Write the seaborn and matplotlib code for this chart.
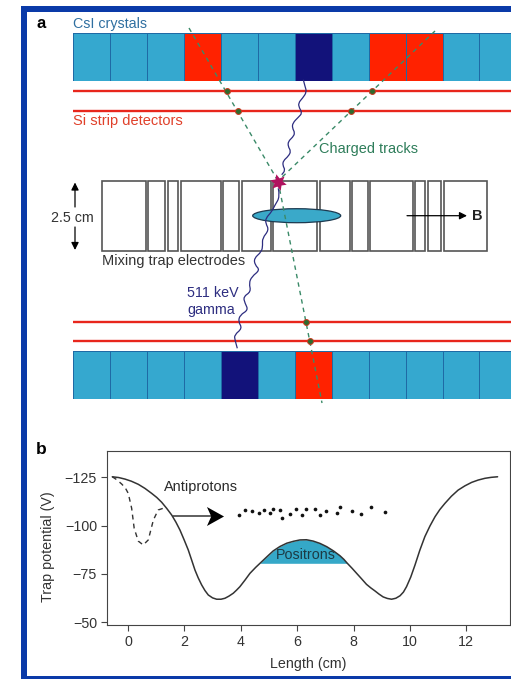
import numpy as np
import seaborn as sns
import matplotlib
matplotlib.use('Agg')
import matplotlib.pyplot as plt
from matplotlib.colors import ListedColormap
from matplotlib.patches import Rectangle, Ellipse, PathPatch
from matplotlib.path import Path

# panel b values
length_cm = [-0.557, -0.33, -0.106, 0.12, 0.365, 0.6, 0.84, 1.02, 1.195, 1.37, 1.55, 1.7, 1.844, 1.99, 2.138, 2.26,
             2.376, 2.49, 2.613, 2.73, 2.848, 3.0, 3.145, 3.3, 3.44, 3.58, 3.734, 3.85, 3.97, 4.15, 4.326, 4.53,
             4.74, 4.95, 5.15, 5.39, 5.63, 5.87, 6.1, 6.33, 6.57, 6.81, 7.05, 7.29, 7.52, 7.66, 7.78, 7.95, 8.11,
             8.29, 8.46, 8.61, 8.76, 8.9, 9.05, 9.2, 9.35, 9.5, 9.65, 9.77, 9.88, 10.03, 10.18, 10.35, 10.53, 10.71,
             10.89, 11.06, 11.24, 11.47, 11.71, 11.95, 12.19, 12.42, 12.66, 12.88, 13.11]
potential = [-125.3, -124.9, -124.1, -123.0, -121.4, -119.3, -116.7, -114.6, -112.1, -109.0, -105.5, -101.8, -97.7,
             -92.7, -87.4, -82.1, -77.0, -73.0, -69.3, -66.4, -64.1, -62.6, -61.9, -61.9, -62.4, -63.5, -65.0, -66.6,
             -68.4, -71.8, -75.3, -78.4, -81.3, -84.2, -86.9, -89.2, -90.9, -91.9, -92.6, -92.7, -92.0, -90.8, -89.1,
             -86.9, -84.4, -82.5, -80.5, -77.9, -75.3, -72.4, -69.6, -67.8, -66.2, -64.6, -63.1, -62.3, -61.9, -62.4,
             -63.7, -65.6, -68.4, -73.4, -79.6, -87.2, -94.3, -99.8, -104.6, -108.3, -111.5, -115.2, -118.4, -120.6,
             -122.4, -123.6, -124.5, -125.0, -125.3]
dashed_cm = [-0.557, -0.4, -0.22, -0.09, 0.01, 0.13, 0.22, 0.365, 0.54, 0.72, 0.90, 1.07, 1.31]
dashed_v = [-125.3, -123.8, -121.5, -119.4, -116.7, -109.0, -98.6, -92.0, -90.0, -92.6, -102.9, -108.1, -109.3]
antiproton_cm = [3.95, 4.16, 4.41, 4.65, 4.83, 5.04, 5.15, 5.40, 5.45, 5.74, 5.96, 6.17, 6.31, 6.65, 6.82, 7.04,
                 7.40, 7.51, 7.94, 8.26, 8.62, 9.10]
antiproton_v = [-105.5, -108.1, -107.4, -106.4, -108.1, -106.4, -108.6, -107.9, -104.1, -105.9, -108.6, -105.7,
                -108.8, -108.6, -105.7, -107.8, -106.4, -109.7, -107.4, -105.9, -109.8, -107.2]
x_ticks = [0, 2, 4, 6, 8, 10, 12]
y_ticks = [-125, -100, -75, -50]
positron_base = -80.5

# panel a: 0 blue, 1 navy, 2 red
top_row = [0, 0, 0, 2, 0, 0, 1, 0, 2, 2, 0, 0]
bottom_row = [0, 0, 0, 0, 1, 0, 2, 0, 0, 0, 0, 0]
electrodes = [(102, 146), (148, 165), (168, 178), (181, 221), (223, 239), (242, 271), (273, 317), (320, 350),
              (352, 368), (370, 413), (415, 425), (428, 441), (444, 487)]
track_left = [(189, 28), (278, 181)]
track_right = [(435, 31), (278, 181)]
track_down = [(278, 181), (322, 403)]
hits = [(226.7, 91), (238, 110.5), (372, 91), (351, 110.5), (306, 322), (310, 341)]
gamma_up = [(303.3, 79.7), (305, 86.3), (306.7, 92), (302.7, 98), (298.3, 103), (299.3, 108), (302.3, 113),
            (298.3, 117.3), (292.7, 123), (292.3, 128), (295, 133), (292.7, 137.3), (288.3, 141.3), (288, 146.3),
            (291, 151.3), (288.3, 156.3), (283.3, 160.7), (282.7, 165.3), (285.3, 170.3), (281.7, 174.7)]
gamma_down = [(278.3, 188.3), (280, 196.7), (275, 205), (271.7, 211.7), (265.7, 218.3), (265.7, 223.3), (269, 230),
              (262.3, 238.3), (262.7, 245), (261.7, 251.7), (254, 258.3), (255, 265), (260, 270), (251.7, 276.7),
              (249, 283.3), (251, 291.7), (243.3, 296.7), (245, 303.3), (248.3, 310), (240, 315), (238.3, 321.7),
              (242.3, 328.3), (234.3, 335), (235, 340), (237.3, 348.3)]

sns.set_theme(style='ticks')
plt.rcParams['font.family'] = ['Liberation Sans', 'DejaVu Sans']
plt.rcParams['text.color'] = '#2a2a2a'

fig = plt.figure(figsize=(5.11, 6.79), dpi=100)
W, H = 511.0, 679.0


def px_axes(x0, y0, x1, y1):
    return fig.add_axes([x0 / W, 1 - y1 / H, (x1 - x0) / W, (y1 - y0) / H])


def smooth(ax, pts, **kw):
    # quadratic curve through the midpoints, for the wavy gamma lines
    pts = np.array(pts, dtype=float)
    mids = (pts[:-1] + pts[1:]) / 2
    verts = [pts[0]]
    codes = [Path.MOVETO]
    for i in range(1, len(pts) - 1):
        verts += [pts[i], mids[i]]
        codes += [Path.CURVE3, Path.CURVE3]
    verts.append(pts[-1])
    codes.append(Path.LINETO)
    ax.add_patch(PathPatch(Path(verts, codes), fc='none', **kw))


# crystal rows
cry_cmap = ListedColormap(['#35a8cf', '#12127a', '#ff2200'])
for row, y0 in [(top_row, 33), (bottom_row, 351)]:
    ax_c = px_axes(73, y0, 511, y0 + 48)
    sns.heatmap(np.array([row]), cmap=cry_cmap, vmin=0, vmax=2, cbar=False, linewidths=0.7, linecolor='#1f6aa5',
                xticklabels=False, yticklabels=False, ax=ax_c)
    ax_c.set_xlim(0, 438 / 36.95)

# panel b
ax = px_axes(106.7, 450.7, 510, 625.3)
c_x, c_v = np.array(length_cm), np.array(potential)
ax.fill_between(c_x, c_v, positron_base, where=(c_v <= positron_base) & (c_x > 4) & (c_x < 8), interpolate=True,
                color='#35a8c8', lw=0, zorder=1)
sns.lineplot(x=length_cm, y=potential, color='#333333', lw=1.1, sort=False, estimator=None, ax=ax)
sns.lineplot(x=dashed_cm, y=dashed_v, color='#333333', lw=1.0, sort=False, estimator=None, ax=ax,
             linestyle=(0, (3.5, 3)))
sns.scatterplot(x=antiproton_cm, y=antiproton_v, color='#111111', s=7, linewidth=0, ax=ax)
ax.set_xlim(-0.755, 13.55)
ax.set_ylim(-48.4, -138.8)
ax.set_xticks(x_ticks)
ax.set_yticks(y_ticks)
ax.tick_params(labelsize=10.3, length=4, width=0.8, color='#444444', labelcolor='#333333', pad=3)
ax.set_xlabel('Length (cm)', fontsize=10.3, color='#333333', labelpad=6)
ax.set_ylabel('Trap potential (V)', fontsize=10.3, color='#333333', labelpad=7, y=0.45)
for s in ax.spines.values():
    s.set_visible(True)
    s.set_color('#444444')
    s.set_linewidth(0.8)
ax.text(6.3, -84.8, 'Positrons', ha='center', va='center', fontsize=10.3, color='#1c3a44')
ax.text(1.29, -119.8, 'Antiprotons', ha='left', va='center', fontsize=10.45)
ax.plot([1.6, 3.2], [-105.1, -105.1], color='#333333', lw=1.1)
head = [(0.9, 0), (-0.9, 1), (-0.45, 0), (-0.9, -1), (0.9, 0)]
ax.scatter([3.08], [-105.1], marker=head, s=187, c='black', linewidths=0, zorder=4)

# overlay in pixel coordinates for panel a and the frame
ov = fig.add_axes([0, 0, 1, 1], zorder=5)
ov.set_xlim(0, W)
ov.set_ylim(H, 0)
ov.axis('off')
ov.patch.set_alpha(0)

frame = '#0a3aa8'
ov.add_patch(Rectangle((21, 6), 6, 673, fc=frame, ec='none'))
ov.add_patch(Rectangle((21, 6), 490, 5.5, fc=frame, ec='none'))
ov.add_patch(Rectangle((21, 676), 490, 3, fc=frame, ec='none'))

for y in [91, 110.5, 322, 341]:
    ov.plot([73, 511], [y, y], color='#e8261c', lw=1.7, solid_capstyle='butt')

for x0, x1 in electrodes:
    ov.add_patch(Rectangle((x0, 181), x1 - x0, 70, fc='white', ec='#555555', lw=1.2, zorder=2))

ov.add_patch(Ellipse((296.7, 215.7), 88, 14, fc='#3aa9c9', ec='#1c3a50', lw=0.9, zorder=3))

for tr in [track_left, track_right, track_down]:
    xs, ys = zip(*tr)
    ov.plot(xs, ys, color='#3a8a68', lw=1.0, ls=(0, (3.2, 3)), zorder=4)
smooth(ov, gamma_up, ec='#2d2d80', lw=0.9, zorder=4)
smooth(ov, gamma_down, ec='#2d2d80', lw=0.9, zorder=4)
hx, hy = zip(*hits)
ov.scatter(hx, hy, s=18, c='#2e6a2e', edgecolors='#c83a20', linewidths=0.7, zorder=5)
ov.scatter([277.5], [181.5], s=150, marker=(6, 1, 15), c='#b0125f', linewidths=0, zorder=6)

ov.annotate('', xy=(75, 182.5), xytext=(75, 207), arrowprops=dict(arrowstyle='-|>', color='black', lw=0.9,
            shrinkA=0, shrinkB=0, mutation_scale=11))
ov.annotate('', xy=(75, 250), xytext=(75, 227), arrowprops=dict(arrowstyle='-|>', color='black', lw=0.9,
            shrinkA=0, shrinkB=0, mutation_scale=11))
ov.annotate('', xy=(467, 215.7), xytext=(407, 215.7), arrowprops=dict(arrowstyle='-|>', color='black', lw=0.9,
            shrinkA=0, shrinkB=0, mutation_scale=11))

ov.text(41.5, 23, 'a', fontsize=12, fontweight='bold', color='black', ha='center', va='center')
ov.text(41, 450, 'b', fontsize=12.5, fontweight='bold', color='black', ha='center', va='center')
ov.text(73, 24, 'CsI crystals', fontsize=10.3, color='#2f6fa0', ha='left', va='center')
ov.text(73, 121, 'Si strip detectors', fontsize=10.5, color='#e0402a', ha='left', va='center')
ov.text(319, 148.5, 'Charged tracks', fontsize=10.45, color='#2e7d5a', ha='left', va='center')
ov.text(72, 218, '2.5 cm', fontsize=10.3, ha='center', va='center', color='#333333')
ov.text(102, 261, 'Mixing trap electrodes', fontsize=10.45, ha='left', va='center', color='#333333')
ov.text(187, 293, '511 keV', fontsize=10.3, ha='left', va='center', color='#2d2d80')
ov.text(187, 310, 'gamma', fontsize=10.3, ha='left', va='center', color='#2d2d80')
ov.text(472, 215.5, 'B', fontsize=10.5, fontweight='bold', ha='left', va='center', color='#222222')

fig.savefig('out.png', dpi=100, facecolor='white')
